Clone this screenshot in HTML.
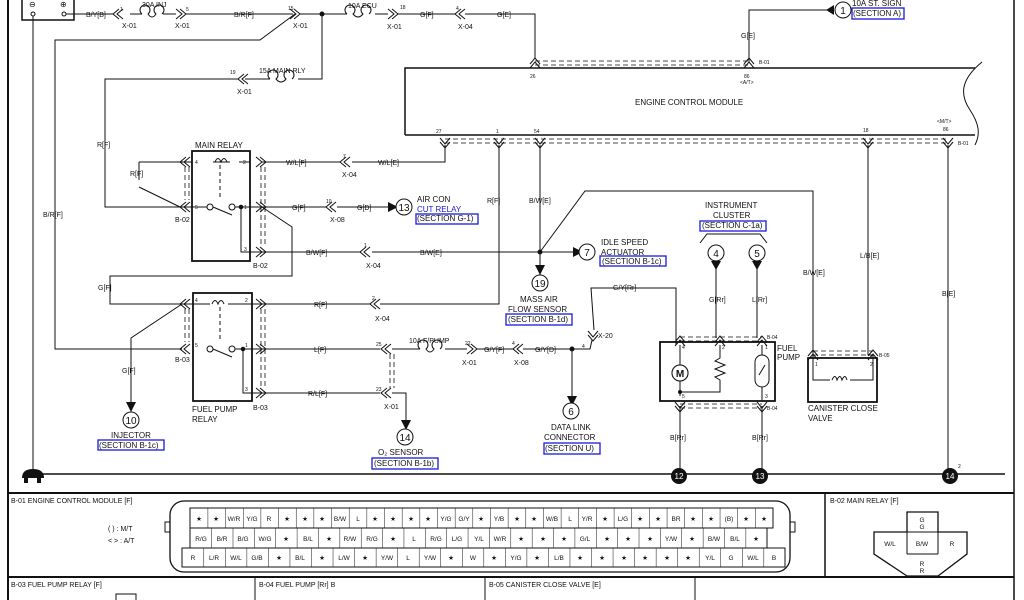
<!DOCTYPE html>
<html><head><meta charset="utf-8"><style>
html,body{margin:0;padding:0;background:#fff}
svg{display:block}
text{font-family:"Liberation Sans",sans-serif;fill:#111}
.s{font-size:7px}
.m{font-size:8px}
.c{font-size:6.5px;text-anchor:middle}
.n{font-size:5px}
.bx{fill:none;stroke:#1a1adb;stroke-width:1.3}
.d{stroke-dasharray:5,3;stroke-width:0.8}
</style></head><body>
<svg width="1024" height="600" viewBox="0 0 1024 600" xmlns="http://www.w3.org/2000/svg">
<defs>
<g id="cl"><path d="M6,-5 L0,0 L6,5 M10,-5 L4,0 L10,5" fill="none" stroke="#111" stroke-width="1"/></g>
<g id="cr"><path d="M-6,-5 L0,0 L-6,5 M-10,-5 L-4,0 L-10,5" fill="none" stroke="#111" stroke-width="1"/></g>
<g id="cu"><path d="M-5,6 L0,0 L5,6 M-5,10 L0,4 L5,10" fill="none" stroke="#111" stroke-width="1"/></g>
<g id="cd"><path d="M-5,-6 L0,0 L5,-6 M-5,-10 L0,-4 L5,-10" fill="none" stroke="#111" stroke-width="1"/></g>
<pattern id="p1" x="190" y="0" width="17.66" height="10" patternUnits="userSpaceOnUse"><line x1="0" y1="0" x2="0" y2="10" stroke="#111"/></pattern>
<pattern id="p2" x="190" y="0" width="21.37" height="10" patternUnits="userSpaceOnUse"><line x1="0" y1="0" x2="0" y2="10" stroke="#111"/></pattern>
<pattern id="p3" x="182" y="0" width="21.54" height="10" patternUnits="userSpaceOnUse"><line x1="0" y1="0" x2="0" y2="10" stroke="#111"/></pattern>
</defs>
<g fill="none" stroke="#111" stroke-width="1">
<line x1="8" y1="0" x2="8" y2="600" stroke-width="2"/>
<line x1="1014" y1="0" x2="1014" y2="600" stroke-width="1.5"/>
<rect x="22" y="-2" width="52" height="22" stroke-width="1.5"/>
<circle cx="33" cy="14" r="2"/><circle cx="64" cy="14" r="2"/>
<line x1="33" y1="16" x2="33" y2="474"/>
<path d="M66,14 H113 M130,14 H142 M163,14 H176 M186,14 H293 M300,14 H347 M375,14 H388 M398,14 H455 M465,14 H535 V58"/>
<path d="M142,14 a5,5 0 1 1 6,0 q4,6 8,0 a5,5 0 1 1 6,0"/>
<path d="M347,14 a5,5 0 1 1 6,0 q5,6 10,0 a5,5 0 1 1 6,0"/>
<path d="M295,14 L260,40 H55 V349 H182"/>
<circle cx="322" cy="14" r="2" fill="#111"/>
<path d="M322,14 V79 H298 M270,79 H245 M238,79 H105 V207 H182"/>
<path d="M270,79 a5,5 0 1 1 6,0 q5,6 10,0 a5,5 0 1 1 6,0"/>
<path d="M405,135 V68 H975" stroke-width="1.5"/>
<path d="M405,135 H975" stroke-width="1.5"/>
<path d="M982,62 C960,80 960,95 970,110 C980,125 980,135 975,145" stroke-width="1"/>
<path class="d" d="M535,61 H749 M535,65 H749"/>
<path class="d" d="M445,139 H948 M445,143 H948"/>
<path d="M749,62 V10 H830"/>
<rect x="192" y="151" width="58" height="110" stroke-width="1.8"/>
<path d="M213,162 H230 M239,162 H250 M182,162 H192 M139,162 H182"/>
<path d="M215,162 q3,-7 6,0 q3,-7 6,0" />
<line x1="220" y1="165" x2="220" y2="200" stroke-dasharray="4,3"/>
<path d="M182,207 H207 M213,207 L232,215 M235,207 H262"/>
<circle cx="210" cy="207" r="3"/><circle cx="232" cy="207" r="3"/>
<circle cx="241" cy="207" r="1.8" fill="#111"/>
<path d="M241,207 V252 H262"/>
<path d="M139,162 V180 M139,187 L180,207"/>
<path class="d" d="M185,167 V200 M189,167 V200 M261,167 V247 M265,167 V247"/>
<path d="M262,162 H340 M352,162 H445 V145"/>
<path d="M262,207 H326 M337,207 H388"/>
<path d="M262,207 L292,227 V276 H110 V304 H182"/>
<path d="M262,252 H360 M372,252 H540"/>
<path d="M499,145 V304 H380 M370,304 H262"/>
<path d="M540,145 V275"/>
<circle cx="540" cy="252" r="2" fill="#111"/>
<path d="M540,252 L585,191 H813 V355"/>
<path d="M540,252 H573"/>
<rect x="193" y="293" width="59" height="108" stroke-width="1.8"/>
<path d="M182,304 H210 M228,304 H262"/>
<path d="M212,304 q3,-7 6,0 q3,-7 6,0"/>
<line x1="220" y1="307" x2="220" y2="342" stroke-dasharray="4,3"/>
<circle cx="210" cy="349" r="3"/><circle cx="232" cy="349" r="3"/>
<path d="M213,349 L232,357 M235,349 H262"/>
<circle cx="243" cy="349" r="1.8" fill="#111"/>
<path d="M243,349 V393 H262"/>
<path class="d" d="M185,309 V342 M189,309 V342 M261,309 V388 M265,309 V388"/>
<path d="M182,304 L131,338 V402"/>
<path d="M262,349 H380 M392,349 H420 M445,349 H467 M477,349 H513 M523,349 H590 L592,340"/>
<path d="M420,349 a5,5 0 1 1 6,0 q4,6 8,0 a5,5 0 1 1 6,0"/>
<circle cx="572" cy="349" r="2" fill="#111"/>
<path d="M572,349 V398"/>
<path d="M594,330 L591,288 H676 V345"/>
<path d="M262,393 H380 M392,393 H406 V420"/>
<path class="d" d="M390,354 V388 M394,354 V388"/>
<rect x="660" y="342" width="115" height="59" stroke-width="1.8"/>
<path d="M680,345 V396 M680,392 H720 V380 l-5,-3 l10,-4 l-10,-4 l10,-4 l-10,-4 l5,-3 V345 M762,345 V400"/>
<circle cx="680" cy="373" r="8" fill="#fff"/>
<circle cx="680" cy="392" r="1.5" fill="#111"/>
<rect x="755" y="355" width="14" height="32" rx="7" fill="#fff"/>
<path d="M759,375 L765,365"/>
<path class="d" d="M680,337 H762 M680,341 H762 M680,404 H762 M680,408 H762"/>
<path d="M680,406 V470 M762,406 V470"/>
<path d="M716,262 V338 M757,262 V338"/>
<path d="M700,243 L707,234 H760 L767,243"/>
<rect x="808" y="358" width="69" height="44" stroke-width="1.8"/>
<path d="M813,355 V380 H830 M850,380 H873 V355 M868,145 V355 M873,355 H868"/>
<path d="M832,380 q3,-7 5,0 q3,-7 5,0 q3,-7 5,0"/>
<path class="d" d="M813,351 H873 M813,355 H873"/>
<path d="M948,145 V470"/>
<line x1="38" y1="474" x2="1005" y2="474" stroke-width="1.5"/>
<line x1="8" y1="493" x2="1014" y2="493" stroke-width="2"/>
<line x1="8" y1="577" x2="1014" y2="577" stroke-width="2"/>
<line x1="825" y1="493" x2="825" y2="577" stroke-width="1.5"/>
<line x1="255" y1="577" x2="255" y2="600"/>
<line x1="485" y1="577" x2="485" y2="600"/>
<line x1="695" y1="577" x2="695" y2="600"/>
<rect x="170" y="501" width="620" height="71" rx="14" stroke-width="1.3"/>
<rect x="165" y="522" width="5" height="10"/><rect x="790" y="522" width="5" height="10"/>
<rect x="190" y="508" width="583" height="20" fill="url(#p1)"/>
<rect x="190" y="528" width="577" height="20" fill="url(#p2)"/>
<rect x="182" y="548" width="603" height="19" fill="url(#p3)"/>
<path d="M907,512 H938 V532 H967 V554 L938,576 H907 L874,554 V532 H907 Z" stroke-width="1.3"/>
<path d="M907,532 V554 M938,532 V554 M907,554 H938 M907,532 H938" />
<rect x="116" y="594" width="20" height="8"/>
</g>
<use href="#cl" x="113" y="14"/><use href="#cr" x="186" y="14"/><use href="#cr" x="300" y="14"/>
<use href="#cr" x="398" y="14"/><use href="#cl" x="455" y="14"/><use href="#cl" x="238" y="79"/>
<use href="#cu" x="535" y="58"/><use href="#cu" x="749" y="58"/>
<use href="#cd" x="445" y="148"/><use href="#cd" x="499" y="148"/><use href="#cd" x="540" y="148"/><use href="#cd" x="868" y="148"/><use href="#cd" x="948" y="148"/>
<use href="#cl" x="180" y="162"/><use href="#cl" x="180" y="207"/><use href="#cr" x="266" y="162"/><use href="#cr" x="266" y="207"/><use href="#cr" x="266" y="252"/>
<use href="#cl" x="340" y="162"/><use href="#cl" x="326" y="207"/><use href="#cl" x="360" y="252"/><use href="#cl" x="370" y="304"/>
<use href="#cl" x="180" y="304"/><use href="#cl" x="180" y="349"/><use href="#cr" x="266" y="304"/><use href="#cr" x="266" y="349"/><use href="#cr" x="266" y="393"/>
<use href="#cl" x="381" y="349"/><use href="#cl" x="381" y="393"/><use href="#cr" x="477" y="349"/><use href="#cl" x="513" y="349"/>
<use href="#cd" x="593" y="341"/>
<use href="#cu" x="680" y="336"/><use href="#cu" x="720" y="336"/><use href="#cu" x="762" y="336"/>
<use href="#cd" x="680" y="412"/><use href="#cd" x="762" y="412"/>
<use href="#cu" x="813" y="350"/><use href="#cu" x="873" y="350"/>
<g fill="#111">
<path d="M388,202 L398,207 L388,212Z"/><path d="M573,247 L583,252 L573,257Z"/><path d="M535,265 L540,275 L545,265Z"/>
<path d="M126,402 L131,412 L136,402Z"/><path d="M401,420 L406,430 L411,420Z"/><path d="M567,396 L572,406 L577,396Z"/>
<path d="M711,261 L716,270 L721,261Z"/><path d="M752,261 L757,270 L762,261Z"/>
<path d="M834,5 L826,10 L834,15Z"/>
<circle cx="679" cy="476" r="8"/><circle cx="760" cy="476" r="8"/><circle cx="950" cy="476" r="8"/>
<path d="M22,478 q0,-9 11,-9 q11,0 11,9 Z"/><rect x="24" y="477" width="4" height="6"/><rect x="37" y="477" width="4" height="6"/>
</g>
<g fill="#fff" stroke="#111" stroke-width="1">
<circle cx="404" cy="207" r="8"/><circle cx="587" cy="252" r="8"/><circle cx="540" cy="283" r="8"/>
<circle cx="131" cy="420" r="8"/><circle cx="405" cy="437" r="8"/><circle cx="571" cy="411" r="8"/>
<circle cx="716" cy="253" r="8"/><circle cx="757" cy="253" r="8"/><circle cx="843" cy="10" r="8"/>
<circle cx="680" cy="373" r="8"/>
</g>
<g class="m" text-anchor="middle">
<text x="404" y="211" font-size="10">13</text><text x="587" y="256" font-size="10">7</text><text x="540" y="287" font-size="10">19</text>
<text x="131" y="424" font-size="10">10</text><text x="405" y="441" font-size="10">14</text><text x="571" y="415" font-size="10">6</text>
<text x="716" y="257" font-size="10">4</text><text x="757" y="257" font-size="10">5</text><text x="843" y="14" font-size="10">1</text>
<text x="680" y="377" font-size="10" font-weight="bold">M</text>
<text x="679" y="479" font-size="8" style="fill:#fff">12</text><text x="760" y="479" font-size="8" style="fill:#fff">13</text><text x="950" y="479" font-size="8" style="fill:#fff">14</text>
</g>
<text x="29" y="7" class="m">⊖</text><text x="60" y="7" class="m">⊕</text>
<g class="s">
<text x="86" y="17">B/Y[B]</text><text x="120" y="11" class="n">1</text><text x="122" y="28">X-01</text>
<text x="142" y="7">30A INJ</text><text x="186" y="11" class="n">5</text><text x="175" y="28">X-01</text>
<text x="234" y="17">B/R[F]</text><text x="288" y="10" class="n">15</text><text x="293" y="28">X-01</text>
<text x="348" y="8">10A ECU</text><text x="400" y="9" class="n">18</text><text x="387" y="29">X-01</text>
<text x="420" y="17">G[F]</text><text x="456" y="10" class="n">4</text><text x="458" y="29">X-04</text><text x="497" y="17">G[E]</text>
<text x="230" y="74" class="n">19</text><text x="237" y="94">X-01</text><text x="259" y="73">15A MAIN RLY</text>
<text x="97" y="147">R[F]</text><text x="43" y="217">B/R[F]</text><text x="130" y="176">R[F]</text>
<text x="195" y="148" class="m">MAIN RELAY</text>
<text x="195" y="164" class="n">4</text><text x="243" y="164" class="n">2</text><text x="195" y="209" class="n">5</text><text x="244" y="209" class="n">1</text><text x="244" y="251" class="n">3</text>
<text x="175" y="222">B-02</text><text x="253" y="268">B-02</text>
<text x="286" y="165">W/L[F]</text><text x="343" y="158" class="n">7</text><text x="342" y="177">X-04</text><text x="378" y="165">W/L[E]</text>
<text x="292" y="210">G[F]</text><text x="326" y="203" class="n">10</text><text x="330" y="222">X-08</text><text x="357" y="210">G[D]</text>
<text x="417" y="202" class="m">AIR CON</text><text x="417" y="212" class="m" style="fill:#1a1adb">CUT RELAY</text><text x="417" y="221" class="m">(SECTION G-1)</text>
<text x="306" y="255">B/W[F]</text><text x="364" y="247" class="n">1</text><text x="366" y="268">X-04</text><text x="420" y="255">B/W[E]</text>
<text x="98" y="290">G[F]</text><text x="487" y="203">R[F]</text><text x="529" y="203">B/W[E]</text>
<text x="436" y="133" class="n">27</text><text x="496" y="133" class="n">1</text><text x="534" y="133" class="n">54</text>
<text x="530" y="78" class="n">26</text><text x="744" y="78" class="n">86</text><text x="740" y="84" class="n">&lt;A/T&gt;</text>
<text x="759" y="64" class="n">B-01</text><text x="741" y="38">G[E]</text>
<text x="635" y="105" class="m">ENGINE CONTROL MODULE</text>
<text x="863" y="132" class="n">18</text><text x="937" y="123" class="n">&lt;M/T&gt;</text><text x="943" y="131" class="n">86</text><text x="958" y="145" class="n">B-01</text>
<text x="852" y="6" class="m">10A ST. SIGN</text><text x="853" y="16" class="m">(SECTION A)</text>
<text x="601" y="245" class="m">IDLE SPEED</text><text x="601" y="255" class="m">ACTUATOR</text><text x="602" y="264" class="m">(SECTION B-1c)</text>
<text x="520" y="302" class="m">MASS AIR</text><text x="508" y="312" class="m">FLOW SENSOR</text><text x="508" y="322" class="m">(SECTION B-1d)</text>
<text x="705" y="208" class="m">INSTRUMENT</text><text x="713" y="218" class="m">CLUSTER</text><text x="702" y="228" class="m">(SECTION C-1a)</text>
<text x="803" y="275">B/W[E]</text><text x="860" y="258">L/B[E]</text><text x="942" y="296">B[E]</text>
<text x="709" y="302">G[Rr]</text><text x="752" y="302">L[Rr]</text><text x="613" y="290">G/Y[Rr]</text>
<text x="195" y="302" class="n">4</text><text x="245" y="302" class="n">2</text><text x="195" y="347" class="n">5</text><text x="245" y="347" class="n">1</text><text x="245" y="391" class="n">3</text>
<text x="314" y="307">R[F]</text><text x="372" y="300" class="n">2</text><text x="375" y="321">X-04</text>
<text x="175" y="362">B-03</text><text x="253" y="410">B-03</text><text x="122" y="373">G[F]</text>
<text x="192" y="412" class="m">FUEL PUMP</text><text x="192" y="422" class="m">RELAY</text>
<text x="314" y="352">L[F]</text><text x="376" y="346" class="n">25</text><text x="409" y="343">10A F/PUMP</text><text x="465" y="345" class="n">22</text><text x="462" y="365">X-01</text>
<text x="484" y="352">G/Y[F]</text><text x="512" y="345" class="n">4</text><text x="514" y="365">X-08</text><text x="535" y="352">G/Y[D]</text>
<text x="582" y="348" class="n">4</text><text x="598" y="338">X-20</text>
<text x="308" y="396">R/L[F]</text><text x="376" y="391" class="n">23</text><text x="384" y="409">X-01</text>
<text x="111" y="438" class="m">INJECTOR</text><text x="99" y="448" class="m">(SECTION B-1c)</text>
<text x="378" y="455" class="m">O₂ SENSOR</text><text x="374" y="466" class="m">(SECTION B-1b)</text>
<text x="551" y="430" class="m">DATA LINK</text><text x="544" y="440" class="m">CONNECTOR</text><text x="545" y="451" class="m">(SECTION U)</text>
<text x="682" y="349" class="n">4</text><text x="722" y="349" class="n">2</text><text x="765" y="349" class="n">1</text><text x="682" y="398" class="n">5</text><text x="765" y="398" class="n">3</text>
<text x="767" y="339" class="n">B-04</text><text x="767" y="410" class="n">B-04</text>
<text x="777" y="351" class="m">FUEL</text><text x="777" y="360" class="m">PUMP</text>
<text x="815" y="366" class="n">1</text><text x="870" y="366" class="n">2</text><text x="879" y="357" class="n">B-05</text>
<text x="808" y="411" class="m">CANISTER CLOSE</text><text x="808" y="421" class="m">VALVE</text>
<text x="670" y="440">B[Rr]</text><text x="752" y="440">B[Rr]</text><text x="958" y="468" class="n">2</text>
<text x="11" y="503">B-01 ENGINE CONTROL MODULE [F]</text>
<text x="108" y="531">(    ) : M/T</text><text x="108" y="543">&lt;   &gt; : A/T</text>
<text x="830" y="503">B-02 MAIN RELAY [F]</text>
<text x="11" y="587">B-03 FUEL PUMP RELAY [F]</text><text x="259" y="587">B-04 FUEL PUMP [Rr] B</text><text x="489" y="587">B-05 CANISTER CLOSE VALVE [E]</text>
</g>
<g class="c">
<text x="922" y="522">G</text><text x="922" y="529">G</text><text x="890" y="546">W/L</text><text x="922" y="546">B/W</text><text x="952" y="546">R</text><text x="922" y="566">R</text><text x="922" y="573">R</text>
</g>
<rect class="bx" x="416" y="214" width="62" height="10"/>
<rect class="bx" x="600" y="256" width="66" height="10"/>
<rect class="bx" x="506" y="314" width="66" height="11"/>
<rect class="bx" x="700" y="221" width="66" height="10"/>
<rect class="bx" x="852" y="8" width="52" height="11"/>
<rect class="bx" x="98" y="440" width="66" height="10"/>
<rect class="bx" x="372" y="458" width="66" height="11"/>
<rect class="bx" x="544" y="443" width="56" height="11"/>
<g class="c">
<text x="199" y="521">★</text><text x="216" y="521">★</text><text x="234" y="521">W/R</text><text x="252" y="521">Y/G</text><text x="269" y="521">R</text><text x="287" y="521">★</text><text x="305" y="521">★</text><text x="322" y="521">★</text><text x="340" y="521">B/W</text><text x="358" y="521">L</text><text x="375" y="521">★</text><text x="393" y="521">★</text><text x="411" y="521">★</text><text x="428" y="521">★</text><text x="446" y="521">Y/G</text><text x="464" y="521">G/Y</text><text x="481" y="521">★</text><text x="499" y="521">Y/B</text><text x="517" y="521">★</text><text x="534" y="521">★</text><text x="552" y="521">W/B</text><text x="570" y="521">L</text><text x="587" y="521">Y/R</text><text x="605" y="521">★</text><text x="623" y="521">L/G</text><text x="640" y="521">★</text><text x="658" y="521">★</text><text x="676" y="521">BR</text><text x="693" y="521">★</text><text x="711" y="521">★</text><text x="729" y="521">(B)</text><text x="746" y="521">★</text><text x="764" y="521">★</text>
<text x="201" y="541">R/G</text><text x="222" y="541">B/R</text><text x="243" y="541">B/G</text><text x="265" y="541">W/G</text><text x="286" y="541">★</text><text x="308" y="541">B/L</text><text x="329" y="541">★</text><text x="350" y="541">R/W</text><text x="372" y="541">R/G</text><text x="393" y="541">★</text><text x="414" y="541">L</text><text x="436" y="541">R/G</text><text x="457" y="541">L/G</text><text x="479" y="541">Y/L</text><text x="500" y="541">W/R</text><text x="521" y="541">★</text><text x="543" y="541">★</text><text x="564" y="541">★</text><text x="585" y="541">G/L</text><text x="607" y="541">★</text><text x="628" y="541">★</text><text x="650" y="541">★</text><text x="671" y="541">Y/W</text><text x="692" y="541">★</text><text x="714" y="541">B/W</text><text x="735" y="541">B/L</text><text x="756" y="541">★</text>
<text x="193" y="560">R</text><text x="214" y="560">L/R</text><text x="236" y="560">W/L</text><text x="257" y="560">G/B</text><text x="279" y="560">★</text><text x="300" y="560">B/L</text><text x="322" y="560">★</text><text x="344" y="560">L/W</text><text x="365" y="560">★</text><text x="387" y="560">Y/W</text><text x="408" y="560">L</text><text x="430" y="560">Y/W</text><text x="451" y="560">★</text><text x="473" y="560">W</text><text x="494" y="560">★</text><text x="516" y="560">Y/G</text><text x="537" y="560">★</text><text x="559" y="560">L/B</text><text x="580" y="560">★</text><text x="602" y="560">★</text><text x="624" y="560">★</text><text x="645" y="560">★</text><text x="667" y="560">★</text><text x="688" y="560">★</text><text x="710" y="560">Y/L</text><text x="731" y="560">G</text><text x="753" y="560">W/L</text><text x="774" y="560">B</text>
</g>
</svg>
</body></html>
